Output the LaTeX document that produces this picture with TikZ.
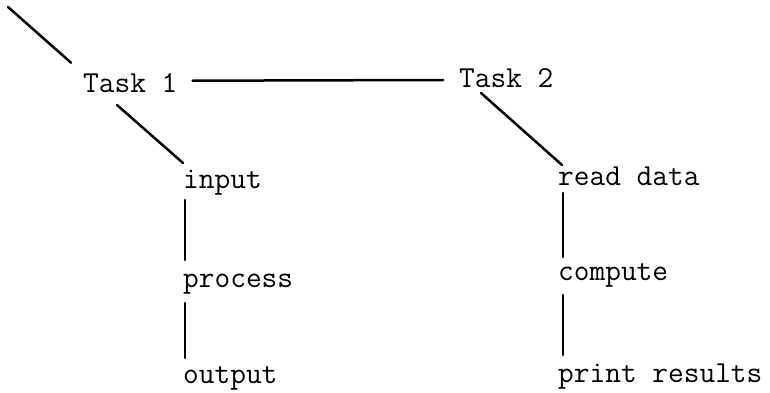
\documentclass[tikz,border=0pt]{standalone}
\usepackage{fontspec}
\begin{document}
\begin{tikzpicture}[x=1pt,y=-1pt,
  lbl/.style={anchor=base west,inner sep=0pt,font=\ttfamily\fontsize{30.5}{34}\selectfont\addfontfeatures{FakeBold=2.6}},
  conn/.style={line width=2.5pt,line cap=round}]
\useasboundingbox (0,0) rectangle (770,393);
\node[lbl] (t1) at (83,92.7) {Task 1};
\node[lbl] (t2) at (459,88) {Task 2};
\node[lbl] (in) at (183,188) {input};
\node[lbl] (pr) at (183,287) {process};
\node[lbl] (out) at (183,383) {output};
\node[lbl] (rd) at (558,185) {read data};
\node[lbl] (cp) at (558,280) {compute};
\node[lbl] (prt) at (558,382) {print results};
\coordinate (top) at (8,7);
\draw[conn] (top) -- ([shift={(-12,-30)}]t1.base west);
\draw[conn] ([shift={(15,-12)}]t1.base east) -- ([shift={(-16,-8)}]t2.base west);
\draw[conn] ([shift={(34,12.3)}]t1.base west) -- ([shift={(0,-25)}]in.base west);
\draw[conn] ([shift={(22,5)}]t2.base west) -- ([shift={(4,-20)}]rd.base west);
\draw[conn] ([shift={(2,12)}]in.base west) -- ([shift={(2,-27)}]pr.base west);
\draw[conn] ([shift={(2,16)}]pr.base west) -- ([shift={(2,-25)}]out.base west);
\draw[conn] ([shift={(5,8)}]rd.base west) -- ([shift={(5,-23)}]cp.base west);
\draw[conn] ([shift={(5,15)}]cp.base west) -- ([shift={(5,-27)}]prt.base west);
\end{tikzpicture}
\end{document}
